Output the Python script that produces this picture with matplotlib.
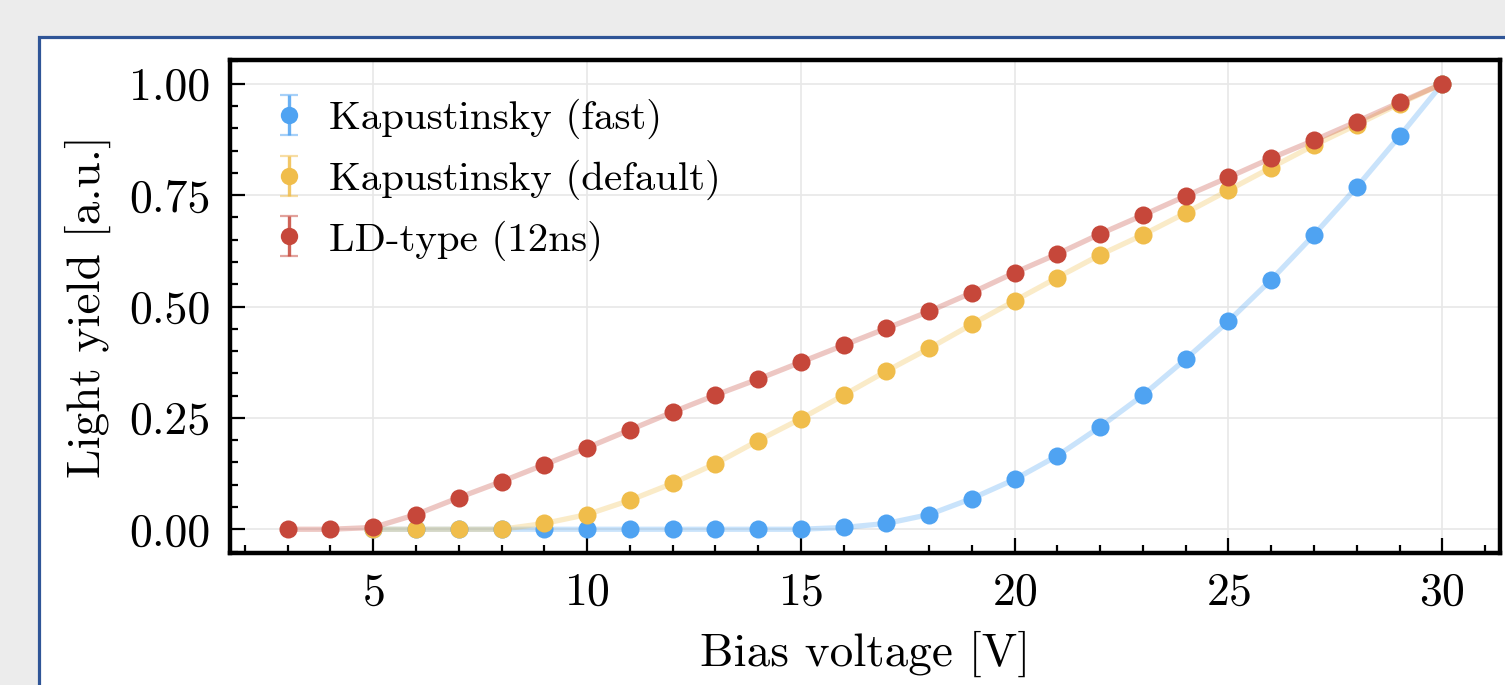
import matplotlib
matplotlib.use("Agg")
import matplotlib.pyplot as plt
from matplotlib.colors import to_rgba
from matplotlib.lines import Line2D
from matplotlib.path import Path
from matplotlib.patches import Rectangle
from matplotlib.ticker import MultipleLocator

# Bias voltage [V]
v_fast = [5, 6, 7, 8, 9, 10, 11, 12, 13, 14, 15, 16, 17, 18, 19, 20, 21, 22,
          23, 24, 25, 26, 27, 28, 29, 30]
v_default = [5, 6, 7, 8, 9, 10, 11, 12, 13, 14, 15, 16, 17, 18, 19, 20, 21, 22,
             23, 24, 25, 26, 27, 28, 29, 30]
v_ld = [3, 4, 5, 6, 7, 8, 9, 10, 11, 12, 13, 14, 15, 16, 17, 18, 19, 20, 21,
        22, 23, 24, 25, 26, 27, 28, 29, 30]

# Light yield [a.u.]
ly_fast = [0.0, 0.0, 0.0, 0.0, 0.0, 0.0, 0.0, 0.0, 0.0, 0.0, 0.0, 0.004, 0.013,
           0.033, 0.069, 0.112, 0.165, 0.230, 0.301, 0.382, 0.467, 0.560,
           0.661, 0.768, 0.882, 1.0]
ly_default = [0.0, 0.0, 0.0, 0.0, 0.013, 0.033, 0.065, 0.103, 0.147, 0.199,
              0.248, 0.301, 0.355, 0.406, 0.460, 0.513, 0.565, 0.616, 0.661,
              0.710, 0.761, 0.812, 0.862, 0.908, 0.955, 1.0]
ly_ld = [0.0, 0.0, 0.004, 0.033, 0.071, 0.107, 0.145, 0.183, 0.223, 0.263,
         0.301, 0.337, 0.375, 0.413, 0.451, 0.489, 0.531, 0.576, 0.618, 0.663,
         0.705, 0.748, 0.790, 0.833, 0.873, 0.915, 0.958, 1.0]
ly_err = 0.003

labels = ["Kapustinsky (fast)", "Kapustinsky (default)", "LD-type (12ns)"]
colors = ["#4fa3f2", "#f0bd4b", "#c6473a"]

plt.rcParams["font.family"] = "serif"
plt.rcParams["font.serif"] = ["cmr10"]
plt.rcParams["mathtext.fontset"] = "cm"
plt.rcParams["axes.formatter.use_mathtext"] = True

fig = plt.figure(figsize=(15.05, 6.85), dpi=100, facecolor="#ececec")
# white panel with blue frame (screenshot background)
fig.patches.append(Rectangle((38.5 / 1505, -0.2), 1.2, 1.2 - 36.5 / 685,
                             transform=fig.transFigure, facecolor="white",
                             edgecolor="#2f5597", linewidth=2.3, zorder=-10))

ax = fig.add_axes([230 / 1505, 1 - 553 / 685, 1270 / 1505, 493 / 685])

series = [(v_fast, ly_fast), (v_default, ly_default), (v_ld, ly_ld)]
for (x, y), c in zip(series, colors):
    ax.plot(x, y, color=c, alpha=0.3, lw=3.8, zorder=2)
for (x, y), c in zip(series, colors):
    ax.errorbar(x, y, yerr=ly_err, fmt="o", color=c, ms=13, mew=0,
                ecolor=to_rgba(c, 0.7), elinewidth=2.4, capsize=6,
                capthick=2.2, zorder=3)

ax.set_xlabel("Bias voltage [V]", fontsize=34, labelpad=12)
ax.set_ylabel("Light yield [a.u.]", fontsize=34, labelpad=13)
ax.xaxis.set_major_locator(MultipleLocator(5))
ax.xaxis.set_minor_locator(MultipleLocator(1))
ax.yaxis.set_major_locator(MultipleLocator(0.25))
ax.yaxis.set_minor_locator(MultipleLocator(0.05))
ax.yaxis.set_major_formatter(plt.FormatStrFormatter("%.2f"))
ax.tick_params(which="both", direction="in", labelsize=33, width=1.6,
               top=False, right=False)
ax.tick_params(which="major", length=11, pad=14)
ax.tick_params(which="minor", length=6)
for s in ax.spines.values():
    s.set_linewidth(3.2)
ax.grid(True, color="#e8e8e8", lw=1.2)
ax.set_axisbelow(True)

# errorbar-style legend handles (bar + caps + dot)
bar_path = Path([(0, -1), (0, 1)], [Path.MOVETO, Path.LINETO])
cap_path = Path([(-0.44, 1), (0.44, 1), (-0.44, -1), (0.44, -1)],
                [Path.MOVETO, Path.LINETO, Path.MOVETO, Path.LINETO])
handles = []
for c in colors:
    caps = Line2D([], [], ls="none", marker=cap_path, ms=29.5, mfc="none",
                  mec=to_rgba(c, 0.5), mew=1.6)
    bar = Line2D([], [], ls="none", marker=bar_path, ms=29.5, mfc="none",
                 mec=to_rgba(c, 0.85), mew=2.4)
    dot = Line2D([], [], ls="none", marker="o", ms=12.5, mew=0, color=c)
    handles.append((caps, bar, dot))

leg = ax.legend(handles, labels, loc="upper left", frameon=False,
                fontsize=29.5, handlelength=1.3, handletextpad=0.34,
                labelspacing=0.5, borderaxespad=0.5, borderpad=0.45,
                bbox_to_anchor=(-0.0055, 1.0))

fig.savefig("out.png", dpi=100, facecolor=fig.get_facecolor())
